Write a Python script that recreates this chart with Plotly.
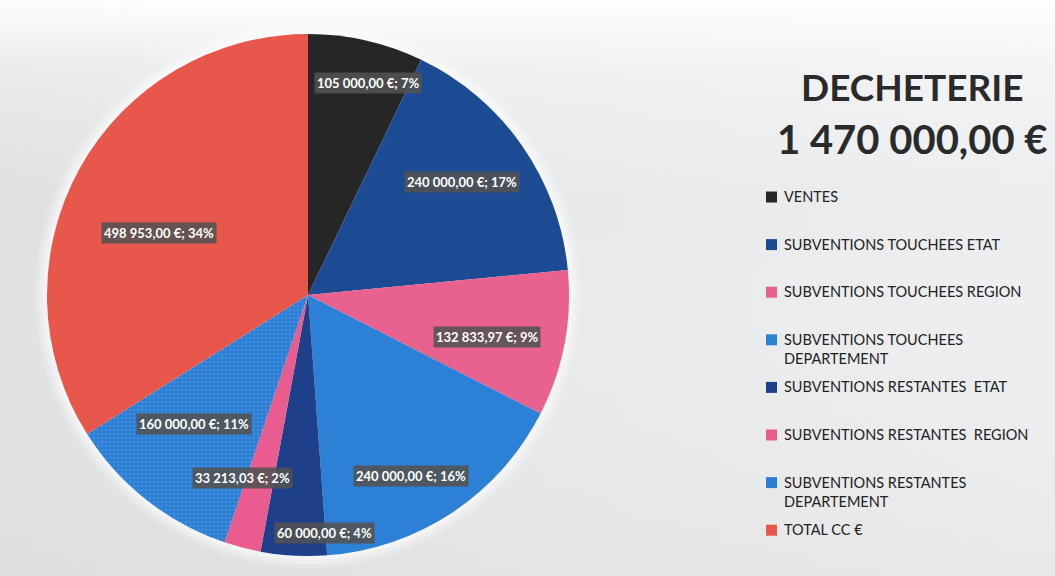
import base64
import math
import plotly.graph_objects as go

# ---- data -------------------------------------------------------------
categories = [
    "VENTES",
    "SUBVENTIONS TOUCHEES ETAT",
    "SUBVENTIONS TOUCHEES REGION",
    "SUBVENTIONS TOUCHEES<br>DEPARTEMENT",
    "SUBVENTIONS RESTANTES  ETAT",
    "SUBVENTIONS RESTANTES  REGION",
    "SUBVENTIONS RESTANTES<br>DEPARTEMENT",
    "TOTAL CC €",
]
amounts = [105000.00, 240000.00, 132833.97, 240000.00, 60000.00, 33213.03, 160000.00, 498953.00]
title_name = "DECHETERIE"

# ---- styling ----------------------------------------------------------
colors = ["#262626", "#1d4b93", "#e9628f", "#2c80d6",
          "#1e3f8a", "#ea5c90", "#2b7ed3", "#e8574b"]
patterns = ["", "", "", "", "", "", ".", ""]
# label placement: fraction of radius and angular nudge (degrees) per slice
label_radius = [0.843, 0.73, 0.705, 0.80, 0.914, 0.745, 0.66, 0.62]
label_nudge = [2.9, -1.4, 2.4, 3.9, -7.1, 5.2, 3.2, -6.4]

W, H = 1055, 576
CX, CY, R = 308, 295, 261          # pie centre / radius in pixels
FONT = "Lato"
TEXT_DARK = "#222222"

# legend block geometry (pixels)
LEG_MARK_X0, LEG_MARK_X1 = 766, 777
LEG_TEXT_X = 783
LEG_Y0, LEG_STEP = 197, 47.6


def fmt_eur(v):
    whole, dec = f"{v:,.2f}".split(".")
    return whole.replace(",", " ") + "," + dec + " €"


def round_percents(vals):
    """Largest-remainder rounding so the displayed shares add up to 100."""
    tot = sum(vals)
    raw = [v / tot * 100 for v in vals]
    base = [math.floor(p) for p in raw]
    rest = 100 - sum(base)
    order = sorted(range(len(vals)), key=lambda i: -(raw[i] - base[i]))
    for i in order[:rest]:
        base[i] += 1
    return base


def px_x(x):
    return x / W


def px_y(y):
    return 1 - y / H


total = sum(amounts)
pcts = round_percents(amounts)

# soft grey page background: left-to-right shading with a light top edge
bg_svg = f"""<svg xmlns='http://www.w3.org/2000/svg' width='{W}' height='{H}'>
<defs>
<linearGradient id='h' x1='0' y1='0' x2='1' y2='0'>
<stop offset='0' stop-color='#dfe0e2'/><stop offset='0.55' stop-color='#e8e9eb'/>
<stop offset='1' stop-color='#eceef0'/></linearGradient>
<linearGradient id='v' x1='0' y1='0' x2='0' y2='1'>
<stop offset='0' stop-color='#ffffff' stop-opacity='0.95'/>
<stop offset='0.12' stop-color='#ffffff' stop-opacity='0.35'/>
<stop offset='0.35' stop-color='#ffffff' stop-opacity='0.0'/>
<stop offset='1' stop-color='#d8d9db' stop-opacity='0.25'/></linearGradient>
</defs>
<rect width='{W}' height='{H}' fill='url(#h)'/>
<rect width='{W}' height='{H}' fill='url(#v)'/>
</svg>"""
bg_uri = "data:image/svg+xml;base64," + base64.b64encode(bg_svg.encode()).decode()

fig = go.Figure()
fig.add_trace(go.Pie(
    labels=categories,
    values=amounts,
    sort=False,
    direction="clockwise",
    rotation=0,
    hole=0,
    textinfo="none",
    marker=dict(colors=colors, line=dict(width=0),
                pattern=dict(shape=patterns, fillmode="overlay",
                             fgcolor="#5a9fe6", size=4, solidity=0.3)),
    domain=dict(x=[px_x(CX - R), px_x(CX + R)], y=[px_y(CY + R), px_y(CY - R)]),
    showlegend=False,
))

annotations = []
shapes = []

# value labels on dark boxes, positioned from each slice's mid angle
cum = 0.0
for v, p, f, nd in zip(amounts, pcts, label_radius, label_nudge):
    mid = (cum + v / 2) / total * 2 * math.pi + math.radians(nd)
    cum += v
    lx = CX + f * R * math.sin(mid)
    ly = CY - f * R * math.cos(mid)
    annotations.append(dict(
        x=px_x(lx), y=px_y(ly), xref="paper", yref="paper",
        xanchor="center", yanchor="middle",
        text=f"{fmt_eur(v)}; {p}%", showarrow=False,
        font=dict(family=FONT, size=13, color="white", weight="bold"),
        bgcolor="rgba(82,82,82,0.88)", borderpad=2,
    ))

# heading at the upper right
annotations.append(dict(x=px_x(912), y=px_y(87), xref="paper", yref="paper",
                        xanchor="center", yanchor="middle",
                        text=title_name, showarrow=False,
                        font=dict(family=FONT, size=37, color="#2a2a2a", weight="bold")))
annotations.append(dict(x=px_x(912), y=px_y(139), xref="paper", yref="paper",
                        xanchor="center", yanchor="middle",
                        text=fmt_eur(total), showarrow=False,
                        font=dict(family=FONT, size=40, color="#2a2a2a", weight="bold")))

# legend: square swatch + label for every category
for i, (name, col) in enumerate(zip(categories, colors)):
    yc = LEG_Y0 + i * LEG_STEP
    shapes.append(dict(type="rect", xref="paper", yref="paper",
                       x0=px_x(LEG_MARK_X0), x1=px_x(LEG_MARK_X1),
                       y0=px_y(yc + 5.5), y1=px_y(yc - 5.5),
                       fillcolor=col, line=dict(width=0)))
    annotations.append(dict(x=px_x(LEG_TEXT_X), y=px_y(yc - 10), xref="paper", yref="paper",
                            xanchor="left", yanchor="top", align="left",
                            text=name, showarrow=False, borderpad=0,
                            font=dict(family=FONT, size=14.5, color=TEXT_DARK)))

# soft white halo around the pie
for extra, op in [(12, 0.18), (8, 0.25), (4, 0.35)]:
    shapes.append(dict(type="circle", xref="paper", yref="paper",
                       xsizemode="pixel", ysizemode="pixel",
                       xanchor=px_x(CX), yanchor=px_y(CY),
                       x0=-(R + extra), x1=R + extra, y0=-(R + extra), y1=R + extra,
                       fillcolor="white", opacity=op, line=dict(width=0), layer="below"))

fig.update_layout(
    width=W, height=H,
    margin=dict(l=0, r=0, t=0, b=0),
    paper_bgcolor="#e7e8ea",
    plot_bgcolor="#e7e8ea",
    images=[dict(source=bg_uri, xref="paper", yref="paper", x=0, y=1,
                 sizex=1, sizey=1, xanchor="left", yanchor="top",
                 sizing="stretch", layer="below")],
    annotations=annotations,
    shapes=shapes,
    showlegend=False,
    hovermode=False,
)

fig.write_html("out.html")
